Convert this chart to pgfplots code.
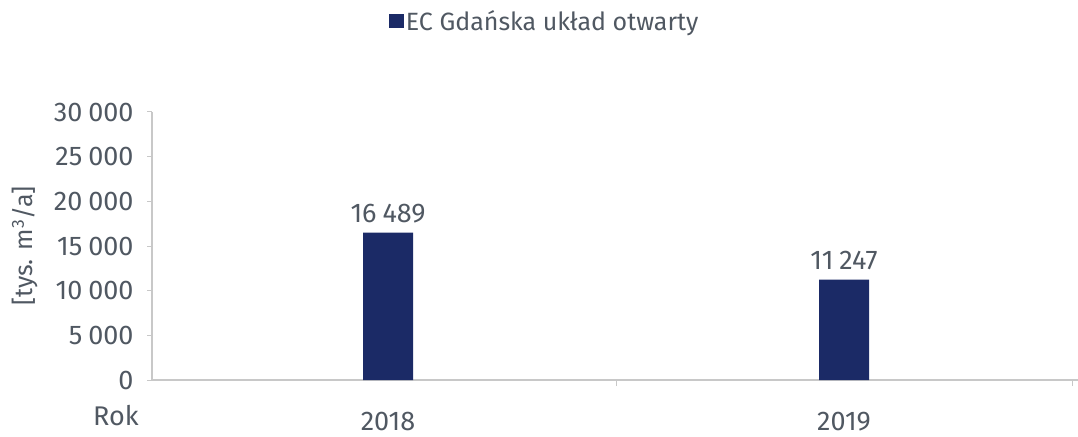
\documentclass[border=0pt]{standalone}
\usepackage{fontspec}
\setmainfont{Fira Sans}
\usepackage{pgfplots}
\pgfplotsset{compat=1.18}
\definecolor{navy}{RGB}{27,42,102}
\definecolor{txt}{RGB}{80,88,98}
\definecolor{axl}{RGB}{200,200,200}
\newcommand{\cf}{\fontsize{25bp}{30bp}\selectfont}
\newcommand{\nf}{\fontsize{27bp}{32bp}\selectfont}
\begin{document}
\cf
\begin{tikzpicture}
\path[use as bounding box] (0,0) rectangle (1078bp,437bp);
\begin{axis}[
  at={(152bp,57bp)}, anchor=south west,
  scale only axis, width=926bp, height=268bp,
  ybar, bar width=50bp,
  xmin=-0.5175, xmax=1.513,
  ymin=0, ymax=30000,
  ytick={0,5000,...,30000},
  scaled y ticks=false,
  xtick={0,1}, xticklabels={2018,2019},
  minor xtick={0.5,1.5},
  axis x line*=bottom, axis y line*=left,
  axis line style={-, draw=axl, line width=1.2pt},
  tick style={draw=axl, line width=1pt},
  major tick length=5bp, minor tick length=6bp,
  tick align=outside,
  major x tick style={draw=none},
  /pgf/number format/.cd, 1000 sep={\hspace{0.22em}}, assume math mode=true, /pgfplots/.cd,
  yticklabel style={font=\nf, text=txt, xshift=-5bp},
  xticklabel style={font=\nf, text=txt, anchor=base, yshift=-45bp},
  ylabel={[tys. m\textsuperscript{3}/a]},
  ylabel style={font=\cf, text=txt, at={(axis description cs:-0.137,0.5)}, anchor=center},
  nodes near coords,
  nodes near coords style={anchor=base, yshift=10bp, font=\nf, text=txt},
  legend style={at={(0.424,1.336)}, anchor=center, draw=none, fill=none,
    font=\cf, text=txt, inner sep=0pt},
  legend image code/.code={\fill[navy] (0bp,-6bp) rectangle (15bp,8bp);},
  legend cell align=left,
  clip=false,
]
\addplot[fill=navy, draw=none, bar shift=0pt] coordinates {(0,16489) (1,11247)};
\addlegendentry{EC Gdańska układ otwarty}
\node[anchor=base, text=txt, font=\nf] at (axis description cs:-0.039,0) [yshift=-45bp] {Rok};
\end{axis}
\end{tikzpicture}
\end{document}
